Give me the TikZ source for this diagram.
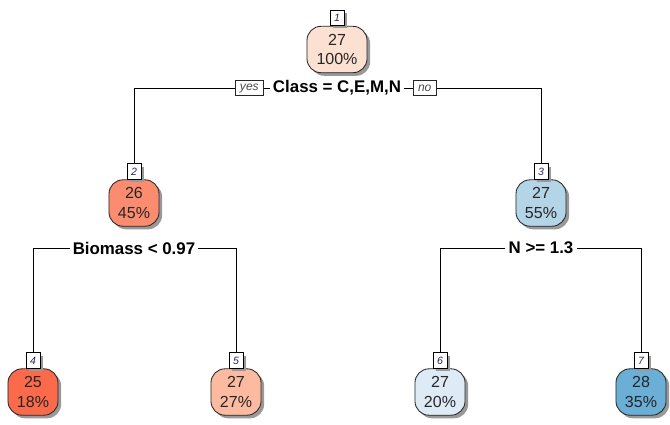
\documentclass[tikz,border=0pt]{standalone}
\usepackage{fontspec}
\setmainfont{Liberation Sans}
\usepackage[dvipsnames]{xcolor}
\usetikzlibrary{positioning,shadows}

% fills of the leaves, light to dark
\definecolor{red1}{RGB}{252,224,210}
\definecolor{red2}{RGB}{251,140,111}
\definecolor{red4}{RGB}{251,106,74}
\definecolor{red5}{RGB}{252,187,161}
\definecolor{blue3}{RGB}{180,212,232}
\definecolor{blue6}{RGB}{222,235,247}
\definecolor{blue7}{RGB}{107,174,214}
\definecolor{tagtext}{RGB}{40,40,90}

\begin{document}
\begin{tikzpicture}[x=0.025cm,y=-0.025cm,line width=0.6pt,
  leaf/.style={draw=black!85,rounded corners=10pt,minimum width=35.6pt,minimum height=33pt,inner sep=1pt,align=center,
    font=\fontsize{11.4}{14}\selectfont,text=black!85,drop shadow={shadow xshift=2.2pt,shadow yshift=-2.2pt,fill=black!40,opacity=1}},
  tag/.style={draw=black,fill=white,minimum width=10pt,minimum height=10.7pt,inner sep=0pt,
    font=\fontsize{7.5}{8}\selectfont\itshape,text=tagtext,drop shadow={shadow xshift=2pt,shadow yshift=-2pt,fill=black!40,opacity=1}},
  split/.style={fill=white,inner sep=2pt,font=\fontsize{12}{14}\selectfont\bfseries},
  branch/.style={draw=black!85,fill=white,minimum height=10.7pt,inner xsep=3.5pt,inner ysep=0pt,
    font=\fontsize{8.6}{9}\selectfont\itshape,text=black!70}]

  \useasboundingbox (0,0) rectangle (670,424);

  % root and first split
  \node[leaf,fill=red1,minimum width=42.7pt] (1) at (337,49.5) {27\\100\%};
  \node[tag,above=0pt of 1] (i1) {1};
  \node[split] (s1) at (337,88) {Class = C,E,M,N};
  \node[branch,left=4pt of s1] (yes) {yes};
  \node[branch,right=6pt of s1] (no) {no};

  % second level
  \node[leaf,fill=red2] (2) at (134,203) {26\\45\%};
  \node[tag,above=0pt of 2] (i2) {2};
  \node[split] (s2) at (134,248) {Biomass < 0.97};
  \node[leaf,fill=blue3] (3) at (541,203) {27\\55\%};
  \node[tag,above=0pt of 3] (i3) {3};
  \node[split] (s3) at (541,248) {N >= 1.3};

  % leaves
  \node[leaf,fill=red4] (4) at (33,392) {25\\18\%};
  \node[tag,above=0pt of 4] (i4) {4};
  \node[leaf,fill=red5] (5) at (236,392) {27\\27\%};
  \node[tag,above=0pt of 5] (i5) {5};
  \node[leaf,fill=blue6] (6) at (440,392) {27\\20\%};
  \node[tag,above=0pt of 6] (i6) {6};
  \node[leaf,fill=blue7] (7) at (641,392) {28\\35\%};
  \node[tag,above=0pt of 7] (i7) {7};

  \draw (yes.west) -| (i2.north);
  \draw (yes.east) -- (s1.west);
  \draw (s1.east) -- (no.west);
  \draw (no.east) -| (i3.north);

  \draw (s2.west) -| (i4.north);
  \draw (s2.east) -| (i5.north);
  \draw (s3.west) -| (i6.north);
  \draw (s3.east) -| (i7.north);
\end{tikzpicture}
\end{document}
